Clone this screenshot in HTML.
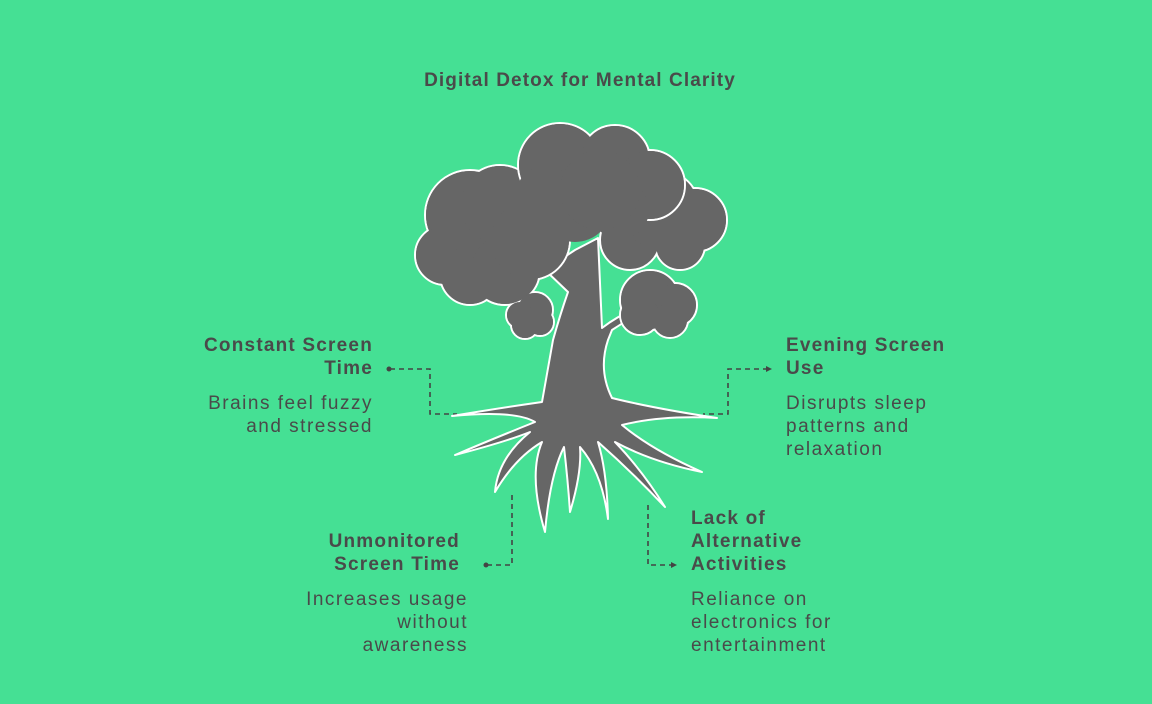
<!DOCTYPE html>
<html><head><style>
body{margin:0;width:1152px;height:704px;background:#45e094;font-family:"Liberation Sans",sans-serif;color:#4a4a4a;position:relative;overflow:hidden}
.t{position:absolute;font-size:19px;line-height:23px;letter-spacing:1.5px;white-space:nowrap}
.b{font-weight:bold;letter-spacing:1.2px}
.r{text-align:right}
</style></head><body>
<div class="t b" style="left:0;width:1160px;text-align:center;top:69px;letter-spacing:1.1px">Digital Detox for Mental Clarity</div>
<div class="t b r" style="left:100px;width:273px;top:334px">Constant Screen<br>Time</div>
<div class="t r" style="left:100px;width:273px;top:392px">Brains feel fuzzy<br>and stressed</div>
<div class="t b" style="left:786px;top:334px">Evening Screen<br>Use</div>
<div class="t" style="left:786px;top:392px">Disrupts sleep<br>patterns and<br>relaxation</div>
<div class="t b r" style="left:200px;width:260px;top:530px">Unmonitored<br>Screen Time</div>
<div class="t r" style="left:200px;width:268px;top:588px">Increases usage<br>without<br>awareness</div>
<div class="t b" style="left:691px;top:507px">Lack of<br>Alternative<br>Activities</div>
<div class="t" style="left:691px;top:588px">Reliance on<br>electronics for<br>entertainment</div>
<svg width="1152" height="704" style="position:absolute;left:0;top:0">
<g fill="none" stroke="#444" stroke-width="1.6" stroke-dasharray="5,4">
<path d="M390 369H430V414H457"/><path d="M768 369H728V414H703"/>
<path d="M487 565H512V495"/><path d="M648 505V565H673"/>
</g>
<g fill="#444"><circle cx="389" cy="369" r="2.5"/><circle cx="486" cy="565" r="2.5"/>
<path d="M772 369l-6-3v6z"/><path d="M677 565l-6-3v6z"/></g>
<g stroke="#fff" stroke-width="2" fill="#666">
<g stroke-linecap="round" stroke-linejoin="round">
<path d="M553 340 Q546 380 542 402 Q500 408 452 416 Q515 410 535 422 Q490 440 455 455 Q505 442 530 432 Q498 458 495 492 Q515 458 542 442 Q528 475 545 532 Q550 475 564 447 Q568 482 570 512 Q582 472 580 447 Q602 472 608 519 Q607 472 598 442 Q632 472 665 507 Q642 470 615 442 Q652 462 702 472 Q652 450 622 425 Q662 415 717 418 Q652 408 612 398 Q598 370 608 340 L612 330 Q640 312 660 300 Q625 310 602 328 L598 238 L575 250 L545 270 L568 292 Q560 315 553 340Z"/>
</g>
<circle cx="470" cy="215" r="45"/><circle cx="445" cy="255" r="30"/><circle cx="470" cy="275" r="30"/><circle cx="505" cy="270" r="35"/><circle cx="530" cy="240" r="40"/><circle cx="500" cy="205" r="40"/>
<circle cx="660" cy="210" r="40"/><circle cx="695" cy="220" r="32"/><circle cx="680" cy="245" r="25"/><circle cx="630" cy="240" r="30"/>
<circle cx="520" cy="315" r="14"/><circle cx="535" cy="310" r="18"/><circle cx="525" cy="325" r="14"/><circle cx="540" cy="322" r="14"/>
<circle cx="650" cy="300" r="30"/><circle cx="675" cy="305" r="22"/><circle cx="640" cy="315" r="20"/><circle cx="670" cy="320" r="18"/>
</g>
<g fill="#666"><circle cx="470" cy="215" r="44"/><circle cx="445" cy="255" r="29"/><circle cx="470" cy="275" r="29"/><circle cx="505" cy="270" r="34"/><circle cx="500" cy="205" r="39"/><circle cx="530" cy="240" r="39"/>
<circle cx="660" cy="210" r="39"/><circle cx="695" cy="220" r="31"/><circle cx="680" cy="245" r="24"/>
<circle cx="650" cy="300" r="29"/><circle cx="675" cy="305" r="21"/><circle cx="640" cy="315" r="19"/><circle cx="670" cy="320" r="17"/>
<circle cx="535" cy="310" r="17"/><circle cx="520" cy="315" r="13"/><circle cx="525" cy="325" r="13"/><circle cx="540" cy="322" r="13"/></g>
<g stroke="#fff" stroke-width="2" fill="#666">
<circle cx="560" cy="165" r="42"/><circle cx="615" cy="160" r="35"/><circle cx="650" cy="185" r="35"/></g>
<g fill="#666"><circle cx="560" cy="165" r="41"/><circle cx="615" cy="160" r="34"/><circle cx="650" cy="185" r="34"/><circle cx="575" cy="205" r="37"/><circle cx="620" cy="210" r="29"/><circle cx="545" cy="195" r="29"/><circle cx="600" cy="190" r="40"/></g>
</svg>
</body></html>
